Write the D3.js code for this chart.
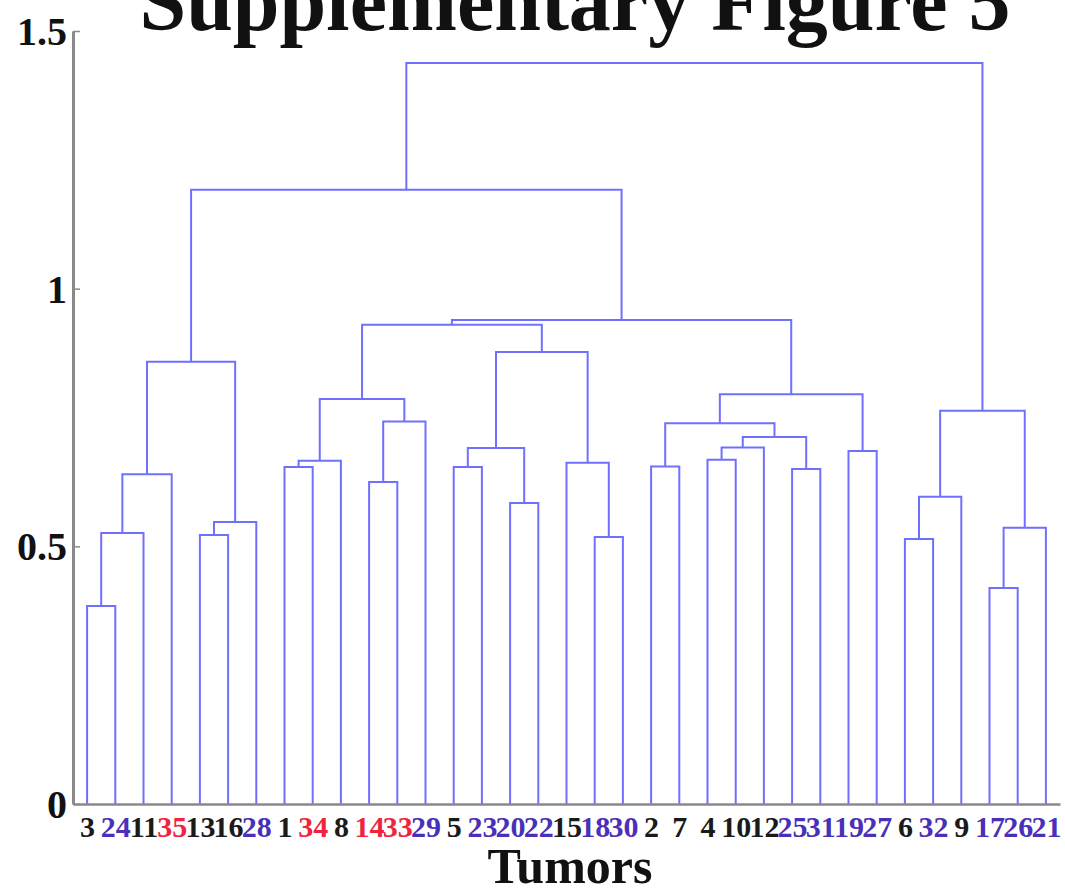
<!DOCTYPE html>
<html>
<head>
<meta charset="utf-8">
<script src="https://cdn.jsdelivr.net/npm/d3@7"></script>
<style>
  body { margin: 0; background: #fff; }
  text { font-family: "Liberation Serif", "Times New Roman", serif; font-weight: bold; }
</style>
</head>
<body>
<script>
// leaf order along the bottom
var tumors = [3,24,11,35,13,16,28,1,34,8,14,33,29,5,23,20,22,15,18,30,2,7,4,10,12,25,31,19,27,6,32,9,17,26,21];
var redTumors = [35,34,14,33];
var blueTumors = [24,28,29,23,20,22,18,30,25,31,19,27,32,17,26,21];

// linkage rows: ids 1..35 are tumors, id 36 is row 0, 37 is row 1, ...
var linkLeft   = [3,17,6,18,13,36,37,40,20,38,14,41,25,1,5,2,15,49,4,19,50,54,57,51,46,45,53,59,47,56,62,66,64,68];
var linkRight  = [24,26,32,30,16,11,21,28,22,9,33,35,31,34,23,7,39,8,10,27,44,12,48,58,29,42,60,55,43,52,65,63,67,61];
var linkHeight = [0.384,0.419,0.514,0.518,0.522,0.526,0.536,0.547,0.584,0.596,0.625,0.640,0.650,0.654,0.654,0.655,0.662,0.666,0.668,0.685,0.691,0.692,0.712,0.739,0.742,0.763,0.786,0.795,0.858,0.877,0.930,0.939,1.192,1.438];

var yTicks = [0, 0.5, 1, 1.5];

var width = 1065, height = 888;
var svg = d3.select("body").append("svg")
    .attr("width", width)
    .attr("height", height);

svg.append("rect").attr("width", width).attr("height", height).attr("fill", "#fff");

var x = d3.scalePoint().domain(tumors).range([73, 1060]).padding(0.5);
var y = d3.scaleLinear().domain([0, 1.5]).range([804, 31]);

// node positions
var nTum = tumors.length;
var nodeX = {}, nodeH = {};
tumors.forEach(function(t){ nodeX[t] = x(t); nodeH[t] = 0; });

var links = linkLeft.map(function(a, i){
    var b = linkRight[i], h = linkHeight[i];
    var id = nTum + 1 + i;
    nodeX[id] = (nodeX[a] + nodeX[b]) / 2;
    nodeH[id] = h;
    return {a: a, b: b, h: h};
});

svg.selectAll("path.link")
    .data(links)
    .enter()
    .append("path")
    .attr("class", "link")
    .attr("fill", "none")
    .attr("stroke", "#7070ff")
    .attr("stroke-width", 2)
    .attr("d", function(d){
        return "M" + nodeX[d.a] + "," + y(nodeH[d.a]) +
               "V" + y(d.h) + "H" + nodeX[d.b] + "V" + y(nodeH[d.b]);
    });

// y axis
var yAxis = svg.append("g")
    .attr("transform", "translate(73,0)")
    .call(d3.axisLeft(y).tickValues(yTicks).tickSizeInner(-7).tickSizeOuter(0).tickPadding(6)
        .tickFormat(function(d){ return String(d); }));
yAxis.select(".domain").attr("stroke", "#8a8a8a").attr("stroke-width", 3);
yAxis.selectAll(".tick line").attr("stroke", "#8a8a8a").attr("stroke-width", 1.5);
yAxis.selectAll(".tick text")
    .attr("fill", "#111")
    .style("font-size", "40px")
    .attr("dy", "0.34em");

// x axis with tumor labels
var xAxis = svg.append("g")
    .attr("transform", "translate(0,804)")
    .call(d3.axisBottom(x).tickSizeInner(0).tickSizeOuter(0));
xAxis.select(".domain").attr("stroke", "#8a8a8a").attr("stroke-width", 2.5);
xAxis.selectAll(".tick text")
    .attr("dy", null)
    .attr("y", 33)
    .style("font-size", "30px")
    .attr("fill", function(d){
        if (redTumors.indexOf(d) >= 0) return "#f0243c";
        if (blueTumors.indexOf(d) >= 0) return "#4a30b8";
        return "#1a1a1a";
    });

svg.append("text")
    .attr("x", 570).attr("y", 883)
    .attr("text-anchor", "middle")
    .style("font-size", "50px")
    .attr("fill", "#111")
    .text("Tumors");

svg.append("text")
    .attr("x", 575).attr("y", 30)
    .attr("text-anchor", "middle")
    .style("font-size", "84px")
    .attr("fill", "#111")
    .text("Supplementary Figure 5");
</script>
</body>
</html>
